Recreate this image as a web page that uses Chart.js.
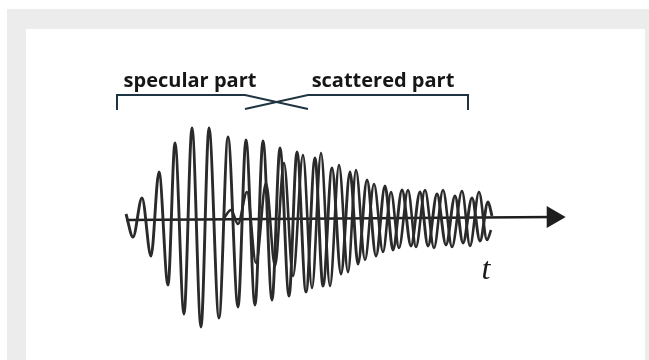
<!DOCTYPE html>
<html>
<head>
<meta charset="utf-8">
<script src="https://cdn.jsdelivr.net/npm/chart.js@4"></script>
<style>
  html, body { margin: 0; padding: 0; background: #ffffff; }
  #wrap { position: relative; width: 649px; height: 360px; overflow: hidden; }
  .outer { position: absolute; left: 7px; top: 9px; right: 0; bottom: 0; background: #ececec; }
  .inner { position: absolute; left: 26px; top: 29px; right: 4px; bottom: 0; background: #ffffff; }
  #chart { position: absolute; left: 0; top: 0; }
</style>
</head>
<body>
<div id="wrap">
  <div class="outer"></div>
  <div class="inner"></div>
  <canvas id="chart" width="649" height="360"></canvas>
</div>
<script>
// specular trace: times of the turning points and their amplitudes
const specularT = [126, 133, 142, 151, 159, 168, 175, 184, 192, 201, 209, 219, 228, 238, 246, 255, 263, 272, 280, 289, 297, 306, 315, 323, 332, 341, 350, 358, 367, 376, 385, 393, 402, 411, 420, 428, 437, 446, 455, 463, 472, 480, 488, 492];
const specularA = [4, -19, 20, -38, 46, -67, 75, -96, 90, -109, 90, -100, 81, -89, 78, -87, 77, -82, 70, -78, 66, -74, 60, -68, 50, -56, 46, -46, 38, -38, 32, -32, 28, -28, 26, -28, 24, -27, 22, -25, 20, -23, 16, 2];

// scattered trace
const scatterT = [224, 231, 238, 247, 256, 266, 275, 284, 293, 303, 312, 321, 330, 339, 348, 356, 365, 374, 383, 391, 399, 408, 416, 425, 434, 443, 452, 462, 470, 479, 487, 491];
const scatterA = [0, 8, -6, 26, -45, 35, -48, 55, -58, 63, -70, 65, -68, 53, -54, 48, -42, 34, -34, 26, -30, 28, -29, 28, -30, 28, -29, 27, -28, 26, -22, -12];

// time axis (start, end) and labels
const axisT = [126, 553];
const axisA = [-2, 1];
const labels = ['specular part', 'scattered part'];
const axisLabel = 't';

function toPoints(xs, ys) {
    const pts = [];
    for (let i = 0; i < xs.length; i++) {
        pts.push({ x: xs[i], y: ys[i] });
    }
    return pts;
}

const waveColor = '#2a2a2a';
const bracketColor = '#1f3442';

const textPlugin = {
    id: 'texts',
    afterDatasetsDraw(chart) {
        const ctx = chart.ctx;
        const xs = chart.scales.x;
        const ys = chart.scales.y;
        ctx.save();
        ctx.fillStyle = '#161616';
        ctx.font = 'bold 20px "Open Sans", sans-serif';
        ctx.textAlign = 'center';
        ctx.textBaseline = 'alphabetic';
        ctx.fillText(labels[0], xs.getPixelForValue(190), ys.getPixelForValue(131));
        ctx.fillText(labels[1], xs.getPixelForValue(383), ys.getPixelForValue(131));
        ctx.fillStyle = '#1a1a1a';
        ctx.font = 'italic 32px "Liberation Serif", serif';
        ctx.fillText(axisLabel, xs.getPixelForValue(486), ys.getPixelForValue(-61));
        ctx.restore();
    }
};

const ctx = document.getElementById('chart').getContext('2d');
const chart = new Chart(ctx, {
    type: 'scatter',
    data: {
        datasets: [
            {
                label: 'specular',
                data: toPoints(specularT, specularA),
                showLine: true,
                borderColor: waveColor,
                borderWidth: 2.9,
                pointRadius: 0,
                cubicInterpolationMode: 'monotone'
            },
            {
                label: 'scattered',
                data: toPoints(scatterT, scatterA),
                showLine: true,
                borderColor: waveColor,
                borderWidth: 2.6,
                pointRadius: 0,
                cubicInterpolationMode: 'monotone'
            },
            {
                label: 'axis',
                data: toPoints(axisT, axisA),
                showLine: true,
                borderColor: '#1e1e1e',
                borderWidth: 2.6,
                pointRadius: [0, 10],
                pointStyle: 'triangle',
                rotation: 90,
                pointBackgroundColor: '#1e1e1e',
                pointBorderColor: '#1e1e1e'
            },
            {
                label: 'bracket left',
                data: [{ x: 117, y: 108 }, { x: 117, y: 123 }, { x: 245, y: 123 }, { x: 308, y: 109 }],
                showLine: true,
                borderColor: bracketColor,
                borderWidth: 2,
                pointRadius: 0
            },
            {
                label: 'bracket right',
                data: [{ x: 245, y: 109 }, { x: 308, y: 123 }, { x: 468, y: 123 }, { x: 468, y: 108 }],
                showLine: true,
                borderColor: bracketColor,
                borderWidth: 2,
                pointRadius: 0
            }
        ]
    },
    options: {
        responsive: false,
        animation: false,
        layout: { padding: 0, autoPadding: false },
        plugins: {
            legend: { display: false },
            tooltip: { enabled: false }
        },
        scales: {
            x: { type: 'linear', min: 0, max: 649, display: false },
            y: { type: 'linear', min: -142, max: 218, display: false }
        }
    },
    plugins: [textPlugin]
});
</script>
</body>
</html>
